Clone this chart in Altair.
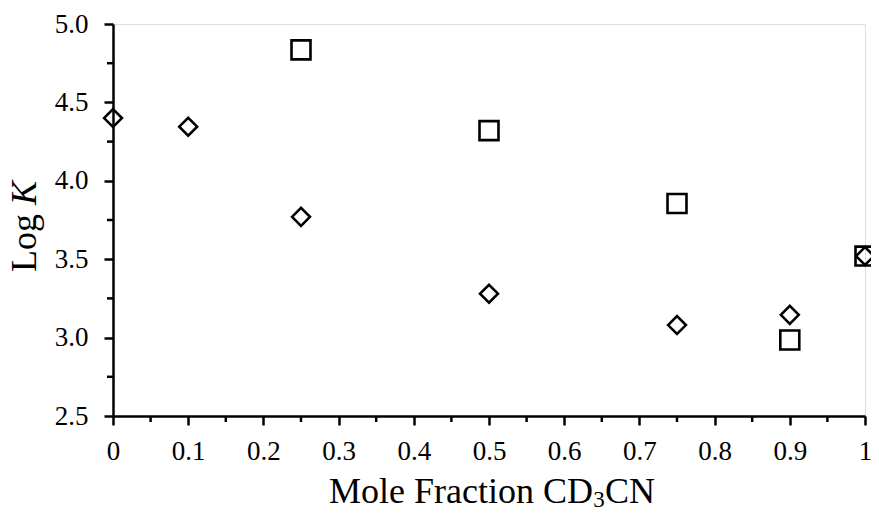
import altair as alt
import pandas as pd

# ---- data ----
mole_fraction_diamond = [0.0, 0.1, 0.25, 0.5, 0.75, 0.9, 1.0]
logk_diamond = [4.40, 4.345, 3.77, 3.28, 3.08, 3.145, 3.52]
mole_fraction_square = [0.25, 0.5, 0.75, 0.9, 1.0]
logk_square = [4.835, 4.32, 3.855, 2.985, 3.52]

x_ticks = [0.0, 0.1, 0.2, 0.3, 0.4, 0.5, 0.6, 0.7, 0.8, 0.9, 1.0]
x_minor = [0.05, 0.15, 0.25, 0.35, 0.45, 0.55, 0.65, 0.75, 0.85, 0.95]
y_ticks = [2.5, 3.0, 3.5, 4.0, 4.5, 5.0]
y_minor = [2.75, 3.25, 3.75, 4.25, 4.75]

FONT = "Liberation Serif"
W, H = 752, 392

df = pd.DataFrame({
    "x": mole_fraction_square + mole_fraction_diamond,
    "y": logk_square + logk_diamond,
    "series": ["square"] * len(mole_fraction_square) + ["diamond"] * len(mole_fraction_diamond),
})

xs = alt.Scale(domain=[0, 1], nice=False, zero=False)
ys = alt.Scale(domain=[2.5, 5.0], nice=False, zero=False)

x_axis = alt.Axis(values=x_ticks, format=".1~f", title=None, grid=False,
                  domainColor="black", domainWidth=2.5, tickColor="black",
                  tickWidth=2.5, tickSize=9, labelFont=FONT, labelFontSize=27,
                  labelColor="black", labelPadding=26, labelBaseline="middle",
                  labelFlush=False, labelOverlap=False)
y_axis = alt.Axis(values=y_ticks, format=".1f", title=None, grid=False,
                  domainColor="black", domainWidth=2.5, tickColor="black",
                  tickWidth=2.5, tickSize=9, labelFont=FONT, labelFontSize=27,
                  labelColor="black", labelPadding=16, labelFlush=False,
                  labelOverlap=False)

points = alt.Chart(df).mark_point(filled=False, strokeWidth=2.6, color="black", opacity=1).encode(
    x=alt.X("x:Q", scale=xs, axis=x_axis),
    y=alt.Y("y:Q", scale=ys, axis=y_axis),
    shape=alt.Shape("series:N", scale=alt.Scale(domain=["square", "diamond"], range=["square", "diamond"]), legend=None),
    size=alt.Size("series:N", scale=alt.Scale(domain=["square", "diamond"], range=[360, 320]), legend=None),
)

xminor = alt.Chart(pd.DataFrame({"x": x_minor})).mark_rule(color="black", strokeWidth=2.5).encode(
    x=alt.X("x:Q", scale=xs, axis=x_axis),
    y=alt.value(H), y2=alt.value(H + 6),
)
yminor = alt.Chart(pd.DataFrame({"y": y_minor})).mark_rule(color="black", strokeWidth=2.5).encode(
    y=alt.Y("y:Q", scale=ys, axis=y_axis),
    x=alt.value(-6), x2=alt.value(0),
)

# x title with subscript
X3 = 486
TY = 479
t1 = alt.Chart(pd.DataFrame({"t": ["Mole Fraction CD"]})).mark_text(
    font=FONT, fontSize=36, align="right", baseline="alphabetic", color="black").encode(
    text="t:N", x=alt.value(X3 - 6), y=alt.value(TY))
t2 = alt.Chart(pd.DataFrame({"t": ["3"]})).mark_text(
    font=FONT, fontSize=23, align="center", baseline="alphabetic", color="black").encode(
    text="t:N", x=alt.value(X3), y=alt.value(TY + 4))
t3 = alt.Chart(pd.DataFrame({"t": ["CN"]})).mark_text(
    font=FONT, fontSize=36, align="left", baseline="alphabetic", color="black").encode(
    text="t:N", x=alt.value(X3 + 6), y=alt.value(TY))

# y title: "Log K" with italic K
yt1 = alt.Chart(pd.DataFrame({"t": ["Log"]})).mark_text(
    font=FONT, fontSize=36, align="left", baseline="alphabetic", angle=270, color="black").encode(
    text="t:N", x=alt.value(-77), y=alt.value(248))
yt2 = alt.Chart(pd.DataFrame({"t": ["K"]})).mark_text(
    font=FONT, fontSize=36, fontStyle="italic", align="left", baseline="alphabetic", angle=270, color="black").encode(
    text="t:N", x=alt.value(-77), y=alt.value(181))

chart = alt.layer(xminor, yminor, points, t1, t2, t3, yt1, yt2).properties(
    width=W, height=H,
    autosize=alt.AutoSizeParams(type="none"),
    padding={"left": 105, "top": 16, "right": 6, "bottom": 91},
).configure_view(stroke=None).configure(background="white")

chart.save("out.html", embed_options={"renderer": "svg", "actions": False})
